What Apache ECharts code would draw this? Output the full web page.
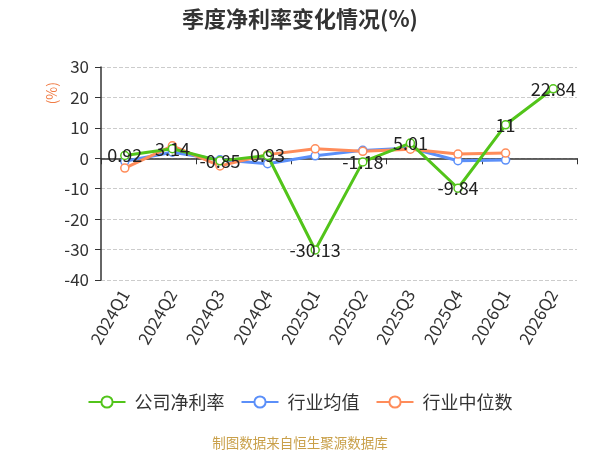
<!DOCTYPE html>
<html><head><meta charset="utf-8">
<script src="https://cdn.jsdelivr.net/npm/echarts@6/dist/echarts.min.js"></script>
<style>html,body{margin:0;padding:0;background:#fff}#c{width:600px;height:450px}</style>
</head><body><div id="c"></div>
<script>
var categories = ['2024Q1','2024Q2','2024Q3','2024Q4','2025Q1','2025Q2','2025Q3','2025Q4','2026Q1','2026Q2'];
var companyValues = [0.92, 3.14, -0.85, 0.93, -30.13, -1.18, 5.01, -9.84, 11, 22.84];
var industryAvg = [-1.0, 2.0, -0.5, -1.8, 0.8, 2.6, 3.4, -0.8, -0.6, null];
var industryMedian = [-3.2, 4.1, -2.5, 1.2, 3.1, 2.3, 3.0, 1.4, 1.7, null];
var yTicks = {min: -40, max: 30, interval: 10};
var seriesNames = ['公司净利率', '行业均值', '行业中位数'];

var font = '"Noto Sans CJK SC", "Noto Sans", sans-serif';
var chart = echarts.init(document.getElementById('c'));
chart.setOption({
  textStyle: {fontFamily: font},
  title: [{
    text: '季度净利率变化情况(%)', left: 'center', top: 3,
    textStyle: {fontSize: 22, fontWeight: 'bold', color: '#333', fontFamily: font}
  }, {
    text: '制图数据来自恒生聚源数据库', left: 'center', top: 431,
    textStyle: {fontSize: 13.5, fontWeight: 'normal', color: '#c9a04a', fontFamily: font}
  }],
  graphic: [{
    type: 'text', left: 45, top: 82, rotation: Math.PI / 2,
    style: {text: '(%)', fill: '#f07c45', fontSize: 14, fontFamily: font}
  }],
  legend: {
    data: seriesNames, bottom: 34, left: 'center',
    itemWidth: 37, itemHeight: 14, itemGap: 16,
    textStyle: {fontSize: 18, color: '#333', fontFamily: font, padding: [0, 0, 0, 4]}
  },
  grid: {left: 101, right: 23, top: 67, bottom: 170},
  xAxis: [{
    type: 'category', data: categories, position: 'bottom',
    axisLine: {show: false, onZero: false}, axisTick: {show: false},
    axisLabel: {rotate: 60, fontSize: 17, color: '#333', margin: 11, interval: 0}
  }, {
    type: 'category', data: categories, position: 'top',
    axisLine: {show: true, onZero: true, lineStyle: {color: '#333', width: 1.5}},
    axisTick: {show: true, inside: true, length: 6, lineStyle: {color: '#333'}},
    axisLabel: {show: false}, splitLine: {show: false}
  }],
  yAxis: {
    type: 'value', min: yTicks.min, max: yTicks.max, interval: yTicks.interval,
    axisLine: {show: true, lineStyle: {color: '#333', width: 1.5}},
    axisTick: {show: true, length: 6, lineStyle: {color: '#333'}},
    axisLabel: {fontSize: 17, color: '#333', margin: 12},
    splitLine: {show: true, lineStyle: {type: 'dashed', color: '#ccc', width: 1}}
  },
  series: [{
    name: seriesNames[0], type: 'line', data: companyValues, xAxisIndex: 0,
    symbol: 'circle', symbolSize: 8, showAllSymbol: true,
    itemStyle: {color: '#fff', borderColor: '#52c41a', borderWidth: 1.5},
    lineStyle: {color: '#52c41a', width: 3},
    label: {show: true, position: 'inside', fontSize: 18, color: '#222', fontFamily: font},
    z: 3
  }, {
    name: seriesNames[1], type: 'line', data: industryAvg, xAxisIndex: 0,
    symbol: 'circle', symbolSize: 8,
    itemStyle: {color: '#fff', borderColor: '#5b8ff9', borderWidth: 1.5},
    lineStyle: {color: '#5b8ff9', width: 3},
    z: 2
  }, {
    name: seriesNames[2], type: 'line', data: industryMedian, xAxisIndex: 0,
    symbol: 'circle', symbolSize: 8,
    itemStyle: {color: '#fff', borderColor: '#ff8c5a', borderWidth: 1.5},
    lineStyle: {color: '#ff8c5a', width: 3},
    z: 2
  }]
});
</script></body></html>
